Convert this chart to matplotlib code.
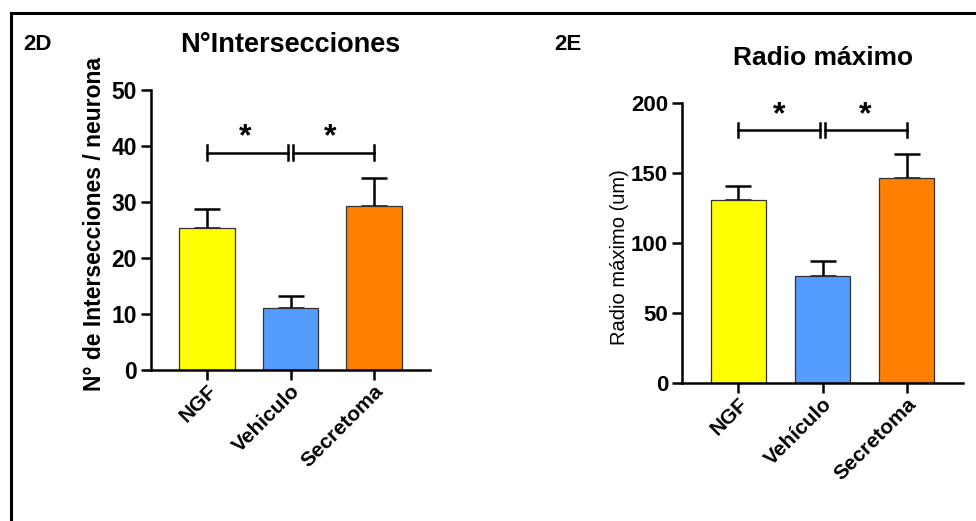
import matplotlib.pyplot as plt
from matplotlib.lines import Line2D

plt.rcParams['font.family'] = ['Liberation Sans', 'DejaVu Sans']
plt.rcParams['font.weight'] = 'bold'

# Data
groups_d = ['NGF', 'Vehiculo', 'Secretoma']
groups_e = ['NGF', 'Vehículo', 'Secretoma']
colors = ['#FFFF00', '#559CFF', '#FF7F00']

inter_mean = [25.3, 11.1, 29.3]
inter_err = [3.4, 2.1, 5.0]
inter_sig_y = 38.8

radio_mean = [130.7, 76.4, 146.6]
radio_err = [10.0, 11.0, 16.7]
radio_sig_y = 180.7


def draw_panel(ax, labels, means, errs, ymax, step, sig_y, tick_h, star_x, fs):
    x = list(range(len(labels)))
    ax.bar(x, means, width=0.66, color=colors, edgecolor='#333333', linewidth=0.9, zorder=2)
    ax.errorbar(x, means, yerr=[[0] * len(errs), errs], fmt='none', ecolor='black',
                elinewidth=1.8, capsize=9.5, capthick=1.8, zorder=1)
    # significance brackets
    for x0, x1 in [(0, 0.975), (1.025, 2)]:
        ax.plot([x0, x1], [sig_y, sig_y], color='black', lw=1.8, clip_on=False)
        for xe in (x0, x1):
            ax.plot([xe, xe], [sig_y - tick_h, sig_y + tick_h], color='black', lw=1.8, clip_on=False)
    for sx in star_x:
        ax.text(sx, sig_y, '*', ha='center', va='bottom', fontsize=23, fontweight='bold')

    ax.set_xlim(-0.67, 2.67)
    ax.set_ylim(0, ymax)
    ax.set_yticks(range(0, ymax + 1, step))
    ax.set_xticks(x)
    ax.set_xticklabels(labels, rotation=45, ha='right', rotation_mode='anchor')
    for s in ['top', 'right']:
        ax.spines[s].set_visible(False)
    for s in ['left', 'bottom']:
        ax.spines[s].set_linewidth(1.8)
    ax.tick_params(axis='both', direction='out', length=7, width=1.8)
    ax.tick_params(axis='y', labelsize=fs, pad=3)
    ax.tick_params(axis='x', labelsize=15, pad=1)


fig = plt.figure(figsize=(9.76, 5.21), dpi=100)

ax1 = fig.add_axes([151 / 976, 1 - 370 / 521, 279 / 976, 280 / 521])
draw_panel(ax1, groups_d, inter_mean, inter_err, 50, 10, inter_sig_y, 1.3, [0.46, 1.48], 16.5)
ax1.set_ylabel('N° de Intersecciones / neurona', fontsize=16.5, fontweight='bold')
ax1.yaxis.set_label_coords(-0.16, 0.52)

ax2 = fig.add_axes([682 / 976, 1 - 383 / 521, 281 / 976, 280 / 521])
draw_panel(ax2, groups_e, radio_mean, radio_err, 200, 50, radio_sig_y, 5.2, [0.49, 1.51], 16)
ax2.set_ylabel('Radio máximo (um)', fontsize=14.5, fontweight='normal')
ax2.yaxis.set_label_coords(-0.19, 0.45)

# titles and panel labels
fig.text(290 / 976, 1 - 45 / 521, 'N°Intersecciones', ha='center', va='center', fontsize=19.5, fontweight='bold')
fig.text(823 / 976, 1 - 58 / 521, 'Radio máximo', ha='center', va='center', fontsize=19, fontweight='bold')
fig.text(37 / 976, 1 - 45 / 521, '2D', ha='center', va='center', fontsize=16, fontweight='bold')
fig.text(568 / 976, 1 - 45 / 521, '2E', ha='center', va='center', fontsize=16, fontweight='bold')

# frame lines (top and left)
fig.add_artist(Line2D([11 / 976, 1], [1 - 13 / 521, 1 - 13 / 521], color='black', lw=2.2))
fig.add_artist(Line2D([11 / 976, 11 / 976], [0, 1 - 13 / 521], color='black', lw=2.2))

fig.savefig('out.png', dpi=100)
